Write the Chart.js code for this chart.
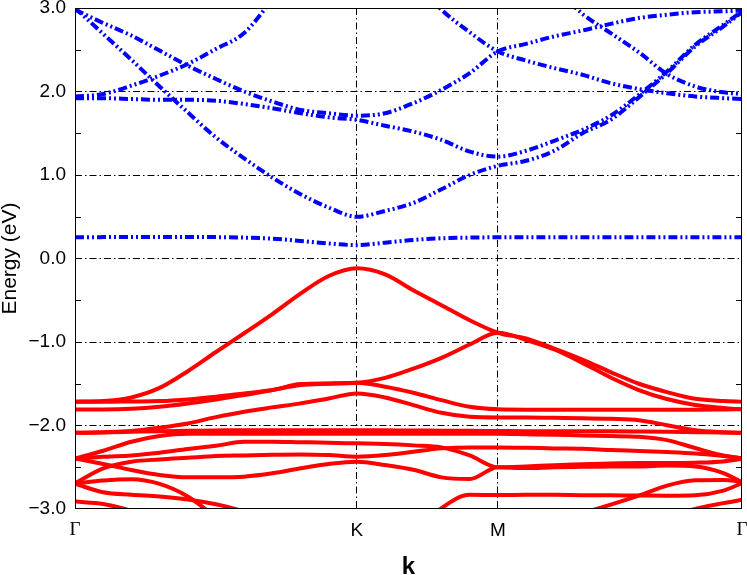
<!DOCTYPE html>
<html>
<head>
<meta charset="utf-8">
<script src="https://cdn.jsdelivr.net/npm/chart.js@4.4.1/dist/chart.umd.min.js"></script>
<style>
  html, body { margin: 0; padding: 0; background: #fff; }
  canvas { display: block; }
</style>
</head>
<body>
<canvas id="bands" width="747" height="575"></canvas>
<script>
// k-path G -> K -> M -> G of the hexagonal zone, |GK| = 1
const kPath = [0, 0.1, 0.2, 0.3, 0.4, 0.5, 0.6, 0.7, 0.8, 0.9, 1.0,
  1.1, 1.2, 1.3, 1.4, 1.5,
  1.6, 1.7, 1.8, 1.9, 2.0, 2.1, 2.2, 2.3, 2.366];
const kTicks = [0, 1, 1.5, 2.366];
const kLabels = ['Γ', 'K', 'M', 'Γ'];
const yTicks = [-3, -2, -1, 0, 1, 2, 3];
const yMinorTicks = [2.5, 1.5, 0.5, -0.5, -1.5, -2.5];

// valence bands (eV), one value per kPath point
const val1 = [-1.715, -1.708, -1.664, -1.55, -1.35, -1.12, -0.895, -0.665, -0.42, -0.21, -0.117,
  -0.19, -0.38, -0.56, -0.74, -0.889,
  -0.957, -1.078, -1.21, -1.36, -1.50, -1.60, -1.68, -1.707, -1.715];
const val2 = [-1.716, -1.716, -1.712, -1.708, -1.688, -1.656, -1.616, -1.576, -1.504, -1.496, -1.488,
  -1.43, -1.32, -1.19, -1.03, -0.889,
  -0.976, -1.09, -1.25, -1.425, -1.575, -1.683, -1.755, -1.79, -1.806];
const val3 = [-1.808, -1.808, -1.80, -1.776, -1.736, -1.688, -1.636, -1.576, -1.516, -1.50, -1.488,
  -1.536, -1.608, -1.696, -1.776, -1.806,
  -1.81, -1.81, -1.81, -1.81, -1.81, -1.81, -1.81, -1.808, -1.806];
const val4 = [-2.088, -2.08, -2.066, -2.026, -1.975, -1.90, -1.835, -1.783, -1.735, -1.676, -1.616,
  -1.664, -1.756, -1.848, -1.896, -1.904,
  -1.904, -1.908, -1.912, -1.92, -1.936, -1.996, -2.056, -2.08, -2.088];
const val5 = [-2.088, -2.084, -2.076, -2.068, -2.064, -2.06, -2.056, -2.056, -2.056, -2.056, -2.056,
  -2.058, -2.06, -2.062, -2.064, -2.066,
  -2.068, -2.068, -2.07, -2.07, -2.072, -2.075, -2.08, -2.085, -2.09];
const val6 = [-2.396, -2.302, -2.194, -2.126, -2.10, -2.10, -2.10, -2.10, -2.10, -2.10, -2.10,
  -2.10, -2.10, -2.10, -2.10, -2.10,
  -2.105, -2.11, -2.12, -2.126, -2.135, -2.175, -2.27, -2.36, -2.393];
const val7 = [-2.396, -2.374, -2.358, -2.326, -2.282, -2.242, -2.196, -2.194, -2.20, -2.206, -2.214,
  -2.222, -2.238, -2.262, -2.358, -2.50,
  -2.49, -2.475, -2.465, -2.455, -2.45, -2.45, -2.445, -2.43, -2.40];
const val8 = [-2.693, -2.513, -2.434, -2.406, -2.386, -2.366, -2.358, -2.35, -2.346, -2.354, -2.374,
  -2.354, -2.314, -2.274, -2.262, -2.262,
  -2.266, -2.274, -2.278, -2.294, -2.305, -2.317, -2.334, -2.365, -2.393];
const val9 = [-2.394, -2.461, -2.533, -2.593, -2.621, -2.621, -2.613, -2.573, -2.513, -2.461, -2.434,
  -2.474, -2.53, -2.621, -2.641, -2.50,
  -2.51, -2.50, -2.495, -2.49, -2.49, -2.48, -2.49, -2.57, -2.68];
const val10 = [-2.696, -2.66, -2.645, -2.70, -2.85, -3.1, null, null, null, null, null,
  null, null, null, null, null,
  null, null, null, null, null, null, null, null, null];
const val11 = [-2.696, -2.80, -2.83, -2.85, -2.885, -2.944, -3.03, -3.15, null, null, null,
  null, null, null, null, null,
  null, null, null, null, null, null, null, null, null];
const val12 = [-2.91, -2.94, -3.02, null, null, null, null, null, null, null, null,
  null, null, null, null, null,
  null, null, null, null, null, null, null, null, null];
const val13 = [null, null, null, null, null, null, null, null, null, null, null,
  null, -3.3, -2.99, -2.83, -2.832,
  -2.83, -2.83, -2.834, -2.836, -2.838, -2.84, -2.835, -2.78, -2.69];
const val14 = [null, null, null, null, null, null, null, null, null, null, null,
  null, null, null, null, null,
  null, null, -3.05, -2.948, -2.84, -2.72, -2.657, -2.653, -2.673];
const val15 = [null, null, null, null, null, null, null, null, null, null, null,
  null, null, null, null, null,
  null, null, null, null, null, -3.12, -3.0, -2.93, -2.89];

// conduction bands (eV)
const cond1 = [0.254, 0.256, 0.258, 0.258, 0.258, 0.256, 0.25, 0.238, 0.21, 0.18, 0.16,
  0.19, 0.222, 0.242, 0.25, 0.254,
  0.254, 0.254, 0.254, 0.254, 0.254, 0.254, 0.254, 0.254, 0.254];
const cond2 = [3.0, 2.69, 2.38, 2.06, 1.75, 1.45, 1.20, 0.97, 0.77, 0.61, 0.50,
  0.57, 0.665, 0.83, 1.00, 1.11,
  1.17, 1.29, 1.50, 1.66, 1.93, 2.22, 2.54, 2.78, 2.95];
const cond3 = [1.92, 1.92, 1.91, 1.90, 1.90, 1.89, 1.85, 1.80, 1.74, 1.69, 1.66,
  1.59, 1.52, 1.42, 1.28, 1.22,
  1.29, 1.41, 1.54, 1.71, 1.96, 2.24, 2.56, 2.80, 2.96];
const cond4 = [2.98, 2.82, 2.67, 2.49, 2.31, 2.15, 2.00, 1.88, 1.78, 1.74, 1.71,
  1.74, 1.86, 2.02, 2.22, 2.48,
  2.57, 2.66, 2.73, 2.81, 2.88, 2.92, 2.95, 2.96, 2.97];
const cond5 = [1.94, 1.97, 2.07, 2.19, 2.33, 2.51, 2.70, 3.1, null, null, null,
  null, 3.35, 2.98, 2.71, 2.48,
  2.37, 2.28, 2.20, 2.10, 2.03, 1.98, 1.94, 1.92, 1.91];
const cond6 = [null, null, null, null, null, null, null, null, null, null, null,
  null, null, null, null, null,
  null, 3.25, 2.93, 2.70, 2.47, 2.21, 2.06, 1.99, 1.97];

const valence = [val1, val2, val3, val4, val5, val6, val7, val8, val9, val10, val11, val12, val13, val14, val15];
const conduction = [cond1, cond2, cond3, cond4, cond5, cond6];

const toXY = ys => ys.map((e, i) => ({ x: kPath[i], y: e }));

const datasets = [
  ...valence.map(ys => ({ data: toXY(ys), borderColor: '#ff0000', borderWidth: 4 })),
  ...conduction.map(ys => ({ data: toXY(ys), borderColor: '#0000ff', borderWidth: 4, borderDash: [9, 3, 2, 3, 2, 3] }))
];

const gridDash = [7, 3, 1.5, 3];
const sans = 'Liberation Sans';

// frame round the plot and the small inward ticks at half-integers
const framePlugin = {
  id: 'frame',
  afterDatasetsDraw(chart) {
    const { ctx, chartArea: a, scales: { y } } = chart;
    ctx.save();
    ctx.strokeStyle = '#000';
    ctx.lineWidth = 1;
    ctx.setLineDash([]);
    ctx.strokeRect(a.left + 0.5, a.top + 0.5, a.width - 1, a.height - 1);
    ctx.beginPath();
    yMinorTicks.forEach(v => {
      const py = Math.round(y.getPixelForValue(v)) + 0.5;
      ctx.moveTo(a.left, py); ctx.lineTo(a.left + 6, py);
      ctx.moveTo(a.right, py); ctx.lineTo(a.right - 6, py);
    });
    ctx.stroke();
    ctx.restore();
  }
};

new Chart(document.getElementById('bands'), {
  type: 'line',
  data: { datasets },
  options: {
    responsive: false,
    animation: false,
    layout: { padding: { top: 8, right: 5, left: 0, bottom: 0 } },
    plugins: { legend: { display: false }, tooltip: { enabled: false } },
    elements: {
      point: { radius: 0 },
      line: { cubicInterpolationMode: 'monotone', tension: 0.4, capBezierPoints: false, borderCapStyle: 'butt' }
    },
    datasets: { line: { clip: 0, spanGaps: false } },
    scales: {
      x: {
        type: 'linear',
        min: 0,
        max: kTicks[kTicks.length - 1],
        afterBuildTicks: s => { s.ticks = kTicks.map(v => ({ value: v })); },
        afterFit: s => { s.height = 66; s.paddingLeft = 0; s.paddingRight = 0; },
        ticks: {
          autoSkip: false,
          maxRotation: 0,
          padding: 10,
          color: '#000',
          callback: (v, i) => kLabels[i],
          font: ctx => ({ family: kLabels[ctx.index] === 'Γ' ? 'Liberation Serif' : sans, size: 19 })
        },
        grid: {
          drawTicks: false,
          lineWidth: 1,
          color: ctx => (ctx.index === 1 || ctx.index === 2) ? '#000' : 'rgba(0,0,0,0)'
        },
        border: { display: false, dash: gridDash },
        title: {
          display: true, text: 'k', color: '#000', padding: { top: 0, bottom: -4 },
          font: { family: sans, size: 24, weight: 'bold', lineHeight: 1 }
        }
      },
      y: {
        min: -3,
        max: 3,
        afterBuildTicks: s => { s.ticks = yTicks.map(v => ({ value: v })); },
        afterFit: s => { s.width = 75; s.paddingTop = 0; s.paddingBottom = 0; },
        ticks: {
          autoSkip: false,
          padding: 9,
          color: '#000',
          font: { family: sans, size: 19 },
          callback: v => (v < 0 ? '\u2212' : '') + Math.abs(v).toFixed(1)
        },
        grid: {
          drawTicks: false,
          lineWidth: 1,
          color: ctx => (ctx.tick && Math.abs(ctx.tick.value) < 3) ? '#000' : 'rgba(0,0,0,0)'
        },
        border: { display: false, dash: gridDash },
        title: {
          display: true, text: 'Energy (eV)', color: '#000', padding: 0,
          font: { family: sans, size: 21, lineHeight: 1 }
        }
      }
    }
  },
  plugins: [framePlugin]
});
</script>
</body>
</html>
